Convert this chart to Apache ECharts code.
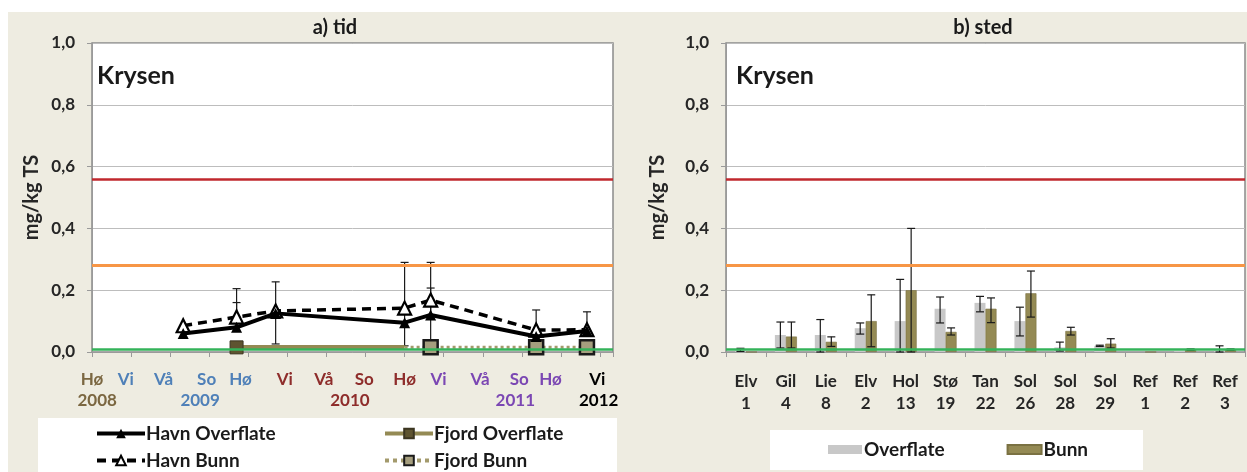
<!DOCTYPE html>
<html><head><meta charset="utf-8">
<script src="https://cdn.jsdelivr.net/npm/echarts@6/dist/echarts.min.js"></script>
<style>html,body{margin:0;padding:0;background:#fff}#c{width:1247px;height:472px}</style>
</head><body><div id="c"></div>
<script>
const FONT = 'Lato, "Open Sans", sans-serif';

// ---- a) tid : time axis in months from start of axis ----
const seasonLabels   = ['Hø','Vi','Vå','So','Hø','Vi','Vå','So','Hø','Vi','Vå','So','Hø','Vi'];
const seasonLabelPos = [0, 2.6, 5.5, 8.8, 11.4, 14.8, 17.8, 20.9, 24.0, 26.6, 29.8, 32.8, 35.2, 38.8];
const seasonGroup    = [0, 1, 1, 1, 1, 2, 2, 2, 2, 3, 3, 3, 3, 4];
const yearLabels     = ['2008', '2009', '2010', '2011', '2012'];
const yearLabelPos   = [0.4, 8.3, 19.8, 32.5, 38.9];
const groupColors    = ['#7b6741', '#4f80b8', '#8e2d2b', '#7b47b3', '#000000'];

const havnX         = [7.0, 11.1, 14.1, 24.0, 26.0, 34.1, 38.0];
const havnOverflate = [0.06, 0.08, 0.125, 0.095, 0.12, 0.05, 0.068];
const havnBunn      = [0.085, 0.113, 0.133, 0.142, 0.168, 0.071, 0.072];
// error bars [x, low, high]
const havnOverflateErr = [[11.1, 0.08, 0.16], [26.0, 0.12, 0.207]];
const havnBunnErr      = [[11.1, 0.113, 0.205], [14.1, 0.026, 0.227], [24.0, 0.02, 0.29], [26.0, 0.015, 0.29], [34.1, 0.071, 0.136], [38.0, 0.072, 0.13]];

const fjordOX = [11.1, 24.0];
const fjordOverflate = [0.015, 0.015];
const fjordBX = [24.0, 26.0, 34.1, 38.0];
const fjordBunn = [0.015, 0.015, 0.015, 0.015];

// class limits (mg/kg TS)
const limits = [0.56, 0.28, 0.005];
const limitColors = ['#c0282e', '#f79646', '#34b35a'];

// ---- b) sted ----
const stations = ['Elv\n1','Gil\n4','Lie\n8','Elv\n2','Hol\n13','Stø\n19','Tan\n22','Sol\n26','Sol\n28','Sol\n29','Ref\n1','Ref\n2','Ref\n3'];
const stedOverflate = [0.005, 0.055, 0.055, 0.077, 0.10, 0.14, 0.159, 0.10, 0.015, 0.02, 0, 0.003, 0.005];
const stedBunn      = [0, 0.05, 0.033, 0.10, 0.20, 0.065, 0.14, 0.19, 0.068, 0.027, 0, 0.008, 0.008];
const stedOverflateErr = [[0,0.002,0.012],[1,0.013,0.097],[2,0,0.105],[3,0.058,0.094],[4,0,0.235],[5,0.094,0.178],[6,0.13,0.18],[7,0.052,0.145],[8,0.003,0.032],[9,0.018,0.022],[12,0,0.02]];
const stedBunnErr      = [[1,0.013,0.097],[2,0.018,0.049],[3,0.017,0.185],[4,0,0.40],[5,0.055,0.078],[6,0.095,0.175],[7,0.113,0.262],[8,0.055,0.08],[9,0.013,0.043],[11,0.006,0.01],[12,0.006,0.01]];

const yTicks = ['0,0','0,2','0,4','0,6','0,8','1,0'];

function pairs(xs, ys, hideIdx){
  return xs.map((x,i)=> i===hideIdx ? {value:[x, ys[i]], symbol:'none'} : [x, ys[i]]);
}

function errRender(dxPx){
  return function(params, api){
    const x = api.value(0), lo = api.value(1), hi = api.value(2);
    const a = api.coord([x, hi]), b = api.coord([x, lo]);
    const cx = a[0] + dxPx, h = 4;
    const st = {stroke:'#1a1a1a', lineWidth:1.2};
    return {type:'group', children:[
      {type:'line', shape:{x1:cx, y1:a[1], x2:cx, y2:b[1]}, style:st},
      {type:'line', shape:{x1:cx-h, y1:a[1], x2:cx+h, y2:a[1]}, style:st},
      {type:'line', shape:{x1:cx-h, y1:b[1], x2:cx+h, y2:b[1]}, style:st}
    ]};
  };
}

function yAxisDef(gi, gap){
  return {
    type:'value', gridIndex:gi, min:0, max:1, interval:0.2,
    name:'mg/kg TS', nameLocation:'middle', nameGap:gap,
    nameTextStyle:{fontFamily:FONT, fontWeight:'bold', fontSize:20, color:'#262626'},
    axisLine:{show:true, lineStyle:{color:'#9a9a9a'}},
    axisTick:{show:true, length:5, lineStyle:{color:'#9a9a9a'}},
    axisLabel:{fontFamily:FONT, fontWeight:'bold', fontSize:17, color:'#262626', margin:17,
      formatter:(v)=>yTicks[Math.round(v/0.2)]},
    splitLine:{lineStyle:{color:'#bdbdbd', width:1}}
  };
}

function limitSeries(xi, yi, z){
  return {
    type:'line', xAxisIndex:xi, yAxisIndex:yi, data:[], z:z, silent:true,
    markLine:{silent:true, symbol:['none','none'], label:{show:false},
      data: limits.map((v,i)=>({yAxis:v, lineStyle:{color:limitColors[i], width: i===1?3:2.5, type:'solid'}}))}
  };
}

const seasonRich = {};
groupColors.forEach((c,i)=>{ seasonRich['g'+i] = {color:c, fontFamily:FONT, fontWeight:'bold', fontSize:17}; });

const legendText = {fontFamily:FONT, fontWeight:'bold', fontSize:19, color:'#1a1a1a', padding:[0,0,0,-4]};

const option = {
  backgroundColor:'#ffffff',
  animation:false,
  graphic:[
    {type:'rect', z:-100, shape:{x:8, y:12, width:1239, height:460}, style:{fill:'#eeece1'}},
    {type:'rect', z:-50, shape:{x:38, y:418, width:579, height:54}, style:{fill:'#ffffff'}},
    {type:'rect', z:-50, shape:{x:770, y:430, width:373, height:40}, style:{fill:'#ffffff'}},
    {type:'text', z:100, x:335, y:28, style:{text:'a) tid', fontFamily:FONT, fontWeight:'bold', fontSize:20, fill:'#1a1a1a', textAlign:'center', textVerticalAlign:'middle'}},
    {type:'text', z:100, x:983, y:28, style:{text:'b) sted', fontFamily:FONT, fontWeight:'bold', fontSize:20, fill:'#1a1a1a', textAlign:'center', textVerticalAlign:'middle'}},
    {type:'text', z:100, x:97, y:76, style:{text:'Krysen', fontFamily:FONT, fontWeight:'bold', fontSize:25, fill:'#1a1a1a', textAlign:'left', textVerticalAlign:'middle'}},
    {type:'text', z:100, x:736, y:76, style:{text:'Krysen', fontFamily:FONT, fontWeight:'bold', fontSize:25, fill:'#1a1a1a', textAlign:'left', textVerticalAlign:'middle'}}
  ],
  legend:[
    {data:['Havn Overflate','Havn Bunn'], orient:'vertical', left:95, top:424, height:100, padding:0,
     itemWidth:48, itemHeight:12, itemGap:8, textStyle:legendText, lineStyle:{width:4}},
    {data:['Fjord Overflate','Fjord Bunn'], orient:'vertical', left:383, top:424, height:100, padding:0,
     itemWidth:48, itemHeight:12, itemGap:8, textStyle:legendText, lineStyle:{width:4}},
    {data:['Overflate','Bunn'], orient:'horizontal', left:828, top:440, padding:0, itemWidth:34, itemHeight:9, itemGap:62, icon:'rect',
     textStyle:{fontFamily:FONT, fontWeight:'bold', fontSize:19, color:'#1a1a1a', padding:[0,0,0,-3]}}
  ],
  grid:[
    {left:92, top:43, width:521, height:309, show:true, backgroundColor:'#ffffff', borderColor:'#8a8a8a', borderWidth:1.5},
    {left:726, top:43, width:519, height:309, show:true, backgroundColor:'#ffffff', borderColor:'#8a8a8a', borderWidth:1.5}
  ],
  xAxis:[
    {type:'value', gridIndex:0, min:0, max:40, interval:3,
     axisLine:{show:true, onZero:false, lineStyle:{color:'#9a9a9a'}},
     axisTick:{show:true, length:5, lineStyle:{color:'#9a9a9a'}},
     splitLine:{show:false},
     axisLabel:{customValues:seasonLabelPos, margin:19, rich:seasonRich,
       formatter:(v)=>{ const i = seasonLabelPos.indexOf(v); return i<0 ? '' : '{g'+seasonGroup[i]+'|'+seasonLabels[i]+'}'; }}},
    {type:'value', gridIndex:0, min:0, max:40, position:'bottom',
     axisLine:{show:false}, axisTick:{show:false}, splitLine:{show:false},
     axisLabel:{customValues:yearLabelPos, margin:40, rich:seasonRich,
       formatter:(v)=>{ const i = yearLabelPos.indexOf(v); return i<0 ? '' : '{g'+i+'|'+yearLabels[i]+'}'; }}},
    {type:'category', gridIndex:1, data:stations,
     axisLine:{show:true, lineStyle:{color:'#9a9a9a'}},
     axisTick:{show:true, length:5, lineStyle:{color:'#9a9a9a'}},
     axisLabel:{fontFamily:FONT, fontWeight:'bold', fontSize:17, color:'#262626', lineHeight:22, margin:19, interval:0}}
  ],
  yAxis:[ yAxisDef(0, 50), yAxisDef(1, 58) ],
  series:[
    limitSeries(0, 0, 1),
    {type:'custom', name:'errHO', xAxisIndex:0, yAxisIndex:0, z:1, data:havnOverflateErr, renderItem:errRender(0), silent:true},
    {type:'custom', name:'errHB', xAxisIndex:0, yAxisIndex:0, z:1, data:havnBunnErr, renderItem:errRender(0), silent:true},
    {type:'line', name:'Fjord Overflate', xAxisIndex:0, yAxisIndex:0, z:3, data:pairs(fjordOX, fjordOverflate, 1),
     symbol:'rect', symbolSize:13, color:'#948a54',
     lineStyle:{color:'#948a54', width:4.5}, itemStyle:{color:'#5e5430', borderColor:'#3b3520', borderWidth:1}},
    {type:'line', name:'Fjord Bunn', xAxisIndex:0, yAxisIndex:0, z:3, data:pairs(fjordBX, fjordBunn, 0),
     symbol:'rect', symbolSize:14, color:'#a39a6c',
     lineStyle:{color:'#a39a6c', width:3, type:'dotted'}, itemStyle:{color:'#a59e7e', borderColor:'#1a1a1a', borderWidth:2.5}},
    {type:'line', name:'Havn Bunn', xAxisIndex:0, yAxisIndex:0, z:4, data:pairs(havnX, havnBunn, -1),
     symbol:'triangle', symbolSize:13, color:'#000',
     lineStyle:{color:'#000', width:3.5, type:[9,6]}, itemStyle:{color:'#ffffff', borderColor:'#000', borderWidth:2.2}},
    {type:'line', name:'Havn Overflate', xAxisIndex:0, yAxisIndex:0, z:5, data:pairs(havnX, havnOverflate, -1),
     symbol:'triangle', symbolSize:11, color:'#000',
     lineStyle:{color:'#000', width:4}, itemStyle:{color:'#000'}},

    {type:'bar', name:'Overflate', xAxisIndex:2, yAxisIndex:1, data:stedOverflate, barWidth:11, barGap:'0%',
     itemStyle:{color:'#c8c8c8'}},
    {type:'bar', name:'Bunn', xAxisIndex:2, yAxisIndex:1, data:stedBunn, barWidth:11, barGap:'0%',
     itemStyle:{color:'#948a54', borderColor:'#7a7142', borderWidth:0.6}},
    limitSeries(2, 1, 3),
    {type:'custom', name:'errO', xAxisIndex:2, yAxisIndex:1, z:4, data:stedOverflateErr, renderItem:errRender(-5.5), silent:true},
    {type:'custom', name:'errB', xAxisIndex:2, yAxisIndex:1, z:4, data:stedBunnErr, renderItem:errRender(5.5), silent:true}
  ]
};
const chart = echarts.init(document.getElementById('c'), null, {renderer:'canvas'});
chart.setOption(option);
</script></body></html>
